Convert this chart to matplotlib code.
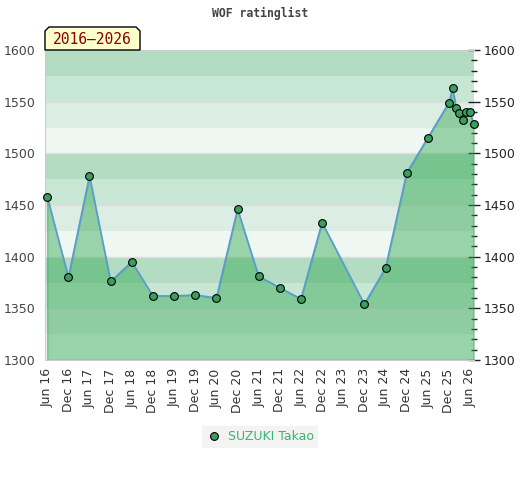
import numpy as np
import pandas as pd
import matplotlib
matplotlib.use('Agg')
import matplotlib.pyplot as plt
import matplotlib.dates as mdates
from matplotlib.patches import Polygon

# rating list dates and ratings
dates = pd.to_datetime([
    '2016-06-01', '2016-12-01', '2017-06-01', '2017-12-01', '2018-06-01',
    '2018-12-01', '2019-06-01', '2019-12-01', '2020-06-01', '2020-12-01',
    '2021-06-01', '2021-12-01', '2022-06-01', '2022-12-01', '2023-12-01',
    '2024-06-01', '2024-12-01', '2025-06-01', '2025-12-01', '2026-01-01',
    '2026-02-01', '2026-03-01', '2026-04-01', '2026-05-01', '2026-06-01',
    '2026-07-01'])
ratings = [1458, 1380, 1478, 1376, 1395,
           1362, 1362, 1363, 1360, 1446,
           1381, 1370, 1359, 1433, 1354,
           1389, 1481, 1515, 1549, 1563,
           1544, 1539, 1532, 1540, 1540,
           1528]
player = 'SUZUKI Takao'
period = '2016\u20132026'
title = 'WOF ratinglist'

fig = plt.figure(figsize=(5.2, 4.8), dpi=100)
ax = fig.add_axes([45/520, 120/480, 429/520, 310/480])

ymin, ymax = 1300, 1600
# background bands, 4 shades repeating every 100
shades = ['#eff7f2', '#dcede3', '#c8e6d4', '#b3dcc2']
for i, lo in enumerate(range(ymin, ymax, 25)):
    ax.axhspan(lo, lo + 25, color=shades[i % 4], lw=0, zorder=0)
for y in range(ymin, ymax + 1, 50):
    ax.axhline(y, color='#dddddd', lw=1, zorder=1)

ax.fill_between(dates, ratings, ymin, facecolor='#32a852', alpha=0.45,
                edgecolor='#2e8b57', lw=1, zorder=2)
ax.plot(dates, ratings, color='#5b9bd5', lw=1.2, zorder=3)
ax.plot(dates, ratings, 'o', ms=5.6, mfc='#3a9e5c', mec='black', mew=0.8,
        zorder=4, label=player, linestyle='none', clip_on=False)

ax.set_ylim(ymin, ymax)
ax.set_xlim(pd.Timestamp('2016-05-13'), pd.Timestamp('2026-07-05'))

ax.set_yticks(range(ymin, ymax + 1, 50))
ax.set_yticks(range(ymin, ymax + 1, 10), minor=True)
ax.tick_params(axis='y', which='both', left=False, right=True,
               labelleft=True, labelright=True, direction='inout',
               labelsize=9, colors='#222222')
ax.tick_params(axis='y', which='major', length=8, width=1, pad=3)
ax.tick_params(axis='y', which='minor', length=4, width=1)
for t in ax.yaxis.get_major_ticks():
    t.label1.set_color('#444444')

ticks = pd.date_range('2016-06-01', '2026-06-01', freq='6MS')
ax.set_xticks(ticks)
ax.xaxis.set_major_formatter(mdates.DateFormatter('%b %y'))
ax.tick_params(axis='x', length=0, labelsize=9, colors='#333333',
               labelrotation=90, pad=6)

for s in ['left', 'bottom', 'top']:
    ax.spines[s].set_color('#cccccc')
ax.spines['right'].set_visible(False)

fig.text(0.5, 1 - 13/480, title, ha='center', va='center',
         family='DejaVu Sans Mono', fontweight='bold', fontsize=8.3,
         color='#444444')

# period label box with cut corners
px = [(45, 50), (45, 31), (49, 27), (136, 27), (140, 31), (140, 50)]
box = Polygon([(x/520, 1 - y/480) for x, y in px], closed=True,
              transform=fig.transFigure, facecolor='#ffffcc',
              edgecolor='black', lw=1, zorder=5)
fig.patches.append(box)
fig.text(92.5/520, 1 - 39/480, period, ha='center', va='center',
         family='DejaVu Sans Mono', fontsize=10.5, color='#8b0000',
         zorder=6)

leg = fig.legend(loc='center', bbox_to_anchor=(0.5, 1 - 437/480),
                 frameon=True, fancybox=False, fontsize=9,
                 handletextpad=0.5, borderpad=0.35, handlelength=1.2)
leg.get_frame().set_facecolor('#f0f0f0')
leg.get_frame().set_edgecolor('none')
for t in leg.get_texts():
    t.set_color('#3cb371')

fig.savefig('out.png', dpi=100)
